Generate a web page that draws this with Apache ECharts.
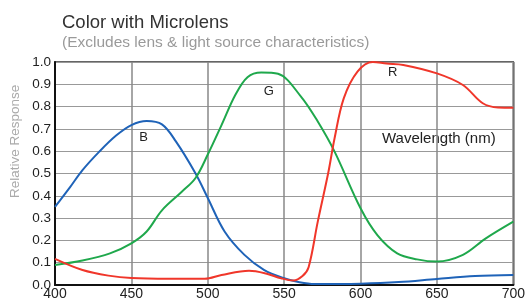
<!DOCTYPE html>
<html>
<head>
<meta charset="utf-8">
<script src="https://cdn.jsdelivr.net/npm/echarts@6/dist/echarts.min.js"></script>
<style>
  html, body { margin: 0; padding: 0; background: #fff; }
  #chart { width: 528px; height: 301px; }
</style>
</head>
<body>
<div id="chart"></div>
<script>
// wavelength (nm), relative response
const blue = [
  [400, 0.35], [410, 0.44], [418, 0.515], [429, 0.598], [440, 0.67], [450, 0.717],
  [460, 0.735], [470, 0.72], [479, 0.645], [492, 0.50], [500, 0.39], [511, 0.24],
  [524, 0.135], [537, 0.067], [550, 0.03], [560, 0.012], [570, 0.004], [600, 0.006],
  [625, 0.013], [650, 0.027], [675, 0.04], [700, 0.045]
];
const green = [
  [400, 0.09], [418, 0.11], [436, 0.142], [450, 0.187], [460, 0.24], [470, 0.335],
  [483, 0.418], [492, 0.48], [500, 0.585], [509, 0.717], [518, 0.852], [526, 0.932],
  [535, 0.953], [546, 0.947], [561, 0.845], [572, 0.733], [583, 0.598], [600, 0.344],
  [611, 0.224], [624, 0.142], [637, 0.115], [650, 0.105], [667, 0.135], [682, 0.209],
  [700, 0.284]
];
const red = [
  [400, 0.117], [418, 0.067], [435, 0.042], [450, 0.031], [475, 0.028], [498, 0.028],
  [509, 0.045], [527, 0.064], [538, 0.052], [548, 0.03], [556, 0.02], [562, 0.04],
  [566, 0.08], [572, 0.284], [579, 0.508], [583, 0.658], [589, 0.837], [598, 0.957],
  [608, 1.0], [617, 0.993], [628, 0.987], [650, 0.949], [667, 0.897], [680, 0.815],
  [690, 0.796], [700, 0.795]
];
const curveLabels = [
  { name: 'B', coord: [458, 0.66] },
  { name: 'G', coord: [540, 0.87] },
  { name: 'R', coord: [621, 0.955] }
];

const font = 'Liberation Sans, Arial';
const chart = echarts.init(document.getElementById('chart'));

function curve(name, data, color, lbl) {
  return {
    name: name,
    type: 'line',
    data: data,
    smooth: 0.35,
    showSymbol: false,
    lineStyle: { color: color, width: 2 },
    markPoint: {
      symbol: 'circle',
      symbolSize: 0,
      label: { show: true, formatter: lbl.name, color: '#222', fontSize: 13, fontFamily: font },
      data: [{ coord: lbl.coord }]
    }
  };
}

chart.setOption({
  animation: false,
  title: [{
    text: 'Color with Microlens',
    left: 57, top: 8,
    textStyle: { fontSize: 18.5, fontWeight: 'normal', color: '#333', fontFamily: font }
  }, {
    text: '(Excludes lens & light source characteristics)',
    left: 57, top: 30,
    textStyle: { fontSize: 15.5, fontWeight: 'normal', color: '#9a9a9a', fontFamily: font }
  }],
  grid: {
    left: 55, right: 11, top: 62, bottom: 16,
    show: true, borderColor: '#333', borderWidth: 1.5
  },
  xAxis: {
    type: 'value', min: 400, max: 700, interval: 50,
    axisLine: { lineStyle: { color: '#111', width: 2 } },
    axisTick: { show: false },
    axisLabel: { color: '#222', fontSize: 14, margin: 2, fontFamily: font },
    splitLine: { show: true, lineStyle: { color: '#888', width: 1.5 } }
  },
  yAxis: {
    type: 'value', min: 0, max: 1, interval: 0.1,
    axisLine: { show: true, lineStyle: { color: '#111', width: 2 } },
    axisTick: { show: false },
    axisLabel: { color: '#222', fontSize: 13.5, margin: 4, formatter: v => v.toFixed(1), fontFamily: font },
    splitLine: { show: true, lineStyle: { color: '#999', width: 1 } }
  },
  graphic: [{
    type: 'text', left: 382, top: 131,
    style: { text: 'Wavelength (nm)', fill: '#222', fontSize: 15, fontFamily: font }
  }, {
    type: 'text', x: 8, y: 198, rotation: Math.PI / 2,
    style: { text: 'Relative Response', fill: '#aaa', fontSize: 13.5, fontFamily: font }
  }],
  series: [
    curve('B', blue, '#1f63b8', curveLabels[0]),
    curve('G', green, '#1fa84c', curveLabels[1]),
    curve('R', red, '#f0362a', curveLabels[2])
  ]
});
</script>
</body>
</html>
